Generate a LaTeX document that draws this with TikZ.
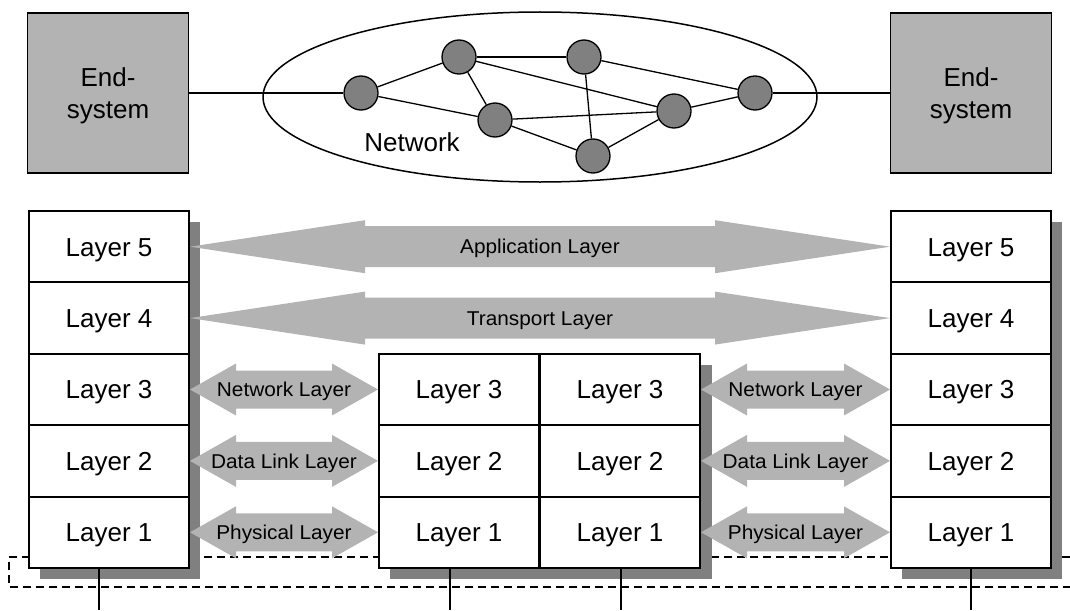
\documentclass[tikz,border=0pt]{standalone}
\usepackage{fontspec}
\setmainfont{Liberation Sans}
\newfontfamily\arrowfont[FakeStretch=1.04]{Liberation Sans}
\usetikzlibrary{calc,shapes.geometric}
\definecolor{lightg}{RGB}{179,179,179}
\definecolor{darkg}{RGB}{128,128,128}
% double-headed block arrow between two anchors: from, to, head length, head half height, shaft half height
\newcommand\dblarr[5]{%
  \path[fill=lightg] let \p1=(#1), \p2=(#2) in
    (\x1,\y1) -- (\x1+#3pt,\y1+#4pt) -- (\x1+#3pt,\y1+#5pt) -- (\x2-#3pt,\y1+#5pt)
    -- (\x2-#3pt,\y1+#4pt) -- (\x2,\y1) -- (\x2-#3pt,\y1-#4pt) -- (\x2-#3pt,\y1-#5pt)
    -- (\x1+#3pt,\y1-#5pt) -- (\x1+#3pt,\y1-#4pt) -- cycle;}
\begin{document}
\begin{tikzpicture}[x=1pt,y=-1pt,
  endsys/.style={draw, line width=1.5pt, fill=lightg, minimum width=161pt, minimum height=160pt,
    inner sep=0pt, align=center, font=\fontsize{26}{32}\selectfont, text depth=0pt},
  rnode/.style={circle, draw, line width=1.3pt, fill=darkg, minimum size=34pt, inner sep=0pt},
  link/.style={line width=1.3pt},
  layerbox/.style={draw, line width=2pt, fill=white, minimum width=160pt, minimum height=71.4pt,
    inner sep=0pt, font=\fontsize{26}{30}\selectfont, text height=18.6pt, text depth=0pt},
  albl/.style={font=\arrowfont\fontsize{20}{24}\selectfont, inner sep=0pt, text height=14.3pt, text depth=0pt},
  bound/.style={dash pattern=on 8pt off 5pt, line width=1.2pt},
  drop/.style={line width=1.3pt}
]
\useasboundingbox (0,0) rectangle (1070,610);

% dashed boundary
\draw[bound] (1070,557) -- (9,557) -- (9,587) -- (1070,587);

% shadows
\fill[darkg] (40,222) rectangle (200,579);
\fill[darkg] (390,365) rectangle (712,579);
\fill[darkg] (902,222) rectangle (1062,579);

% top part
\node[endsys] (ES1) at (108,93) {End-\\system};
\node[endsys] (ES2) at (971,93) {End-\\system};
\node[draw, ellipse, line width=1.5pt, minimum width=554pt, minimum height=170pt, inner sep=0pt] (net) at (540,97) {};
\node[font=\fontsize{26}{30}\selectfont, inner sep=0pt, text height=18.6pt, text depth=0pt] (netlbl) at (412,142.5) {Network};

\node[rnode] (A) at (361,93) {};
\node[rnode] (B) at (459,57) {};
\node[rnode] (C) at (495,120) {};
\node[rnode] (D) at (584,57) {};
\node[rnode] (E) at (593,156) {};
\node[rnode] (F) at (674,111) {};
\node[rnode] (G) at (755,93) {};

\draw[link] (ES1) -- (A);
\draw[link] (G) -- (ES2);
\draw[link] (A) -- (B);
\draw[link] (A) -- (C);
\draw[link] (B) -- (C);
\draw[link] (B) -- (D);
\draw[link] (B) -- (F);
\draw[link] (D) -- (E);
\draw[link] (D) -- (G);
\draw[link] (C) -- (F);
\draw[link] (C) -- (E);
\draw[link] (E) -- (F);
\draw[link] (F) -- (G);

% layer stacks
\foreach \n/\y in {5/246.7,4/318.1,3/389.5,2/460.9,1/532.3} {
  \node[layerbox] (L\n) at (109,\y) {Layer \n};
  \node[layerbox] (R\n) at (971,\y) {Layer \n};
}
\foreach \n/\y in {3/389.5,2/460.9,1/532.3} {
  \node[layerbox] (ML\n) at (459,\y) {Layer \n};
  \node[layerbox] (MR\n) at (620,\y) {Layer \n};
}

% protocol arrows
\dblarr{L5.east}{R5.west}{175}{26.5}{20.5}
\node[albl] (app) at ($(L5.east)!0.5!(R5.west)$) {Application Layer};
\dblarr{L4.east}{R4.west}{175}{26.5}{20.5}
\node[albl] (trn) at ($(L4.east)!0.5!(R4.west)$) {Transport Layer};

\dblarr{L3.east}{ML3.west}{46}{26}{19}
\node[albl] (nw1) at ($(L3.east)!0.5!(ML3.west)$) {Network Layer};
\dblarr{L2.east}{ML2.west}{46}{26}{19}
\node[albl] (dl1) at ($(L2.east)!0.5!(ML2.west)$) {Data Link Layer};
\dblarr{L1.east}{ML1.west}{46}{26}{19}
\node[albl] (ph1) at ($(L1.east)!0.5!(ML1.west)$) {Physical Layer};

\dblarr{MR3.east}{R3.west}{46}{26}{19}
\node[albl] (nw2) at ($(MR3.east)!0.5!(R3.west)$) {Network Layer};
\dblarr{MR2.east}{R2.west}{46}{26}{19}
\node[albl] (dl2) at ($(MR2.east)!0.5!(R2.west)$) {Data Link Layer};
\dblarr{MR1.east}{R1.west}{46}{26}{19}
\node[albl] (ph2) at ($(MR1.east)!0.5!(R1.west)$) {Physical Layer};

% drop lines
\coordinate (d1) at (99,610);
\coordinate (d2) at (450,610);
\coordinate (d3) at (621,610);
\coordinate (d4) at (971,610);
\draw[drop] (L1.south -| d1) -- (d1);
\draw[drop] (ML1.south -| d2) -- (d2);
\draw[drop] (MR1.south -| d3) -- (d3);
\draw[drop] (R1.south -| d4) -- (d4);
\end{tikzpicture}
\end{document}
